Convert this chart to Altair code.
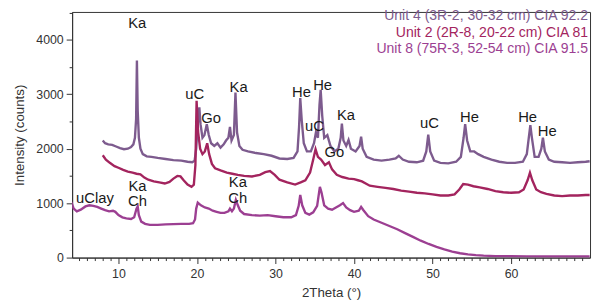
import altair as alt
import pandas as pd

# ---------------- data ----------------
series_names = [
    "Unit 4 (3R-2, 30-32 cm) CIA 92.2",
    "Unit 2 (2R-8, 20-22 cm) CIA 81",
    "Unit 8 (75R-3, 52-54 cm) CIA 91.5",
]
series_colors = ["#7d5b8e", "#a3245e", "#9c3f92"]

u4_theta = [8.0, 8.3, 8.7, 9.2, 9.7, 10.2, 10.7, 11.2, 11.6, 11.9, 12.1, 12.25, 12.35, 12.45, 12.6, 12.8,
            13.1, 13.6, 14.2, 15.0, 16.0, 17.0, 18.0, 18.8, 19.4, 19.7, 19.9, 20.1, 20.3, 20.45, 20.7,
            20.95, 21.25, 21.5, 21.8, 22.2, 22.6, 23.0, 23.4, 23.7, 24.0, 24.2, 24.4, 24.7, 24.9, 25.1,
            25.4, 25.8, 26.5, 27.5, 28.5, 29.5, 30.5, 31.5, 32.3, 32.8, 33.0, 33.15, 33.35, 33.6, 34.0,
            34.5, 34.9, 35.15, 35.4, 35.6, 35.75, 35.95, 36.2, 36.6, 37.0, 37.5, 38.0, 38.3, 38.45,
            38.65, 39.0, 39.3, 39.6, 40.2, 40.7, 40.9, 41.1, 41.6, 42.5, 43.5, 44.5, 45.3, 45.7, 46.2,
            47.0, 48.0, 48.8, 49.2, 49.45, 49.7, 50.2, 51.0, 52.0, 53.0, 53.6, 53.95, 54.15, 54.4, 54.8,
            55.3, 55.8, 56.5, 57.5, 58.5, 59.5, 60.5, 61.5, 62.0, 62.25, 62.45, 62.65, 63.0, 63.5, 63.85,
            64.05, 64.3, 64.8, 65.5, 66.5, 67.5, 68.5, 69.5, 70.0]
u4_counts = [2150, 2100, 2080, 2070, 2040, 2010, 1990, 2000, 2030, 2080, 2200, 2550, 3620, 2700, 2200, 2000,
             1900, 1860, 1850, 1830, 1810, 1790, 1780, 1760, 1750, 1780, 2000, 2450, 2760, 2450, 2200,
             2250, 2450, 2250, 2100, 2050, 2100, 2020, 2080, 2150, 2200, 2400, 2150, 2250, 3030, 2300,
             2050, 1980, 1950, 1920, 1900, 1870, 1820, 1810, 1830, 1950, 2400, 2930, 2500, 2100, 1950,
             1950, 2100, 2300, 2200, 2800, 3080, 2600, 2200, 2250, 2050, 1950, 2000, 2200, 2460,
             2150, 2050, 2160, 2000, 1950, 2050, 2220, 2000, 1850, 1800, 1780, 1800, 1820, 1870, 1800,
             1760, 1750, 1780, 1950, 2260, 1950, 1780, 1740, 1730, 1760, 1850, 2200, 2450, 2150, 1950,
             1950, 1900, 1850, 1800, 1760, 1740, 1740, 1760, 1900, 2200, 2430, 2200, 1850, 1850, 2000,
             2200, 1950, 1800, 1760, 1750, 1740, 1750, 1760, 1770]

u2_theta = [8.0, 8.4, 8.9, 9.5, 10.0, 10.6, 11.2, 11.8, 12.3, 12.8, 13.3, 13.8, 14.5, 15.2, 15.9, 16.5,
            17.0, 17.5, 17.9, 18.3, 18.8, 19.3, 19.6, 19.8, 19.95, 20.15, 20.4, 20.7, 21.0, 21.3, 21.55,
            21.9, 22.3, 23.0, 23.8, 24.5, 25.2, 26.0, 27.0, 28.0, 28.7, 29.3, 29.9, 30.5, 31.5, 32.5,
            33.2, 33.8, 34.4, 34.8, 35.1, 35.4, 35.8, 36.3, 36.8, 37.2, 37.8, 38.5, 39.3, 40.0, 40.5,
            41.0, 42.0, 43.0, 44.0, 45.0, 46.0, 47.0, 48.0, 49.0, 50.0, 51.0, 52.0, 52.8, 53.4, 53.9,
            54.5, 55.2, 56.0, 57.0, 58.0, 59.0, 60.0, 61.0, 61.6, 62.1, 62.4, 62.7, 63.2, 63.8, 64.5,
            65.5, 66.5, 67.5, 68.5, 69.5, 70.0]
u2_counts = [1880, 1800, 1740, 1680, 1650, 1610, 1580, 1560, 1540, 1530, 1470, 1430, 1400, 1380, 1360, 1390,
             1450, 1500, 1490, 1420, 1340, 1300, 1340, 1700, 2880, 2300, 2000, 1900, 1950, 2100, 1900,
             1720, 1640, 1600, 1560, 1540, 1520, 1500, 1490, 1520, 1570, 1590, 1520, 1430, 1380, 1340,
             1380, 1420, 1560, 1800, 1990, 1850, 1800, 1700, 1750, 1620, 1520, 1480, 1450, 1440, 1420,
             1400, 1320, 1300, 1280, 1260, 1230, 1210, 1190, 1180, 1160, 1140, 1140, 1160, 1250, 1350,
             1340, 1310, 1290, 1260, 1220, 1200, 1190, 1200, 1250, 1420, 1560, 1420, 1250, 1200, 1170,
             1140, 1130, 1140, 1140, 1150, 1150]

u8_theta = [4.0, 4.3, 4.7, 5.2, 5.8, 6.3, 6.8, 7.3, 7.8, 8.3, 8.8, 9.3, 9.6, 10.0, 10.5, 11.0, 11.6,
            12.0, 12.3, 12.45, 12.6, 12.9, 13.4, 14.0, 15.0, 16.0, 17.0, 18.0, 19.0, 19.5, 19.75, 19.9,
            20.1, 20.5, 21.0, 21.5, 22.0, 22.5, 23.0, 23.5, 24.0, 24.2, 24.45, 24.7, 24.95, 25.2, 25.5,
            26.0, 27.0, 28.0, 29.0, 30.0, 31.0, 32.0, 32.6, 32.95, 33.15, 33.4, 33.8, 34.3, 34.8, 35.3,
            35.65, 35.85, 36.2, 36.7, 37.2, 37.7, 38.2, 38.6, 39.0, 39.5, 40.0, 40.6, 40.9, 41.2, 41.8,
            42.5, 43.5, 44.5, 45.5, 46.5, 47.5, 48.5, 49.5, 50.5, 51.5, 52.5, 53.5, 54.5, 55.5, 56.5,
            58.0, 60.0, 62.0, 64.0, 66.0, 68.0, 70.0]
u8_counts = [1020, 900, 850, 880, 940, 960, 950, 930, 900, 870, 850, 860, 840, 780, 740, 720, 710,
             740, 900, 940, 780, 660, 620, 600, 600, 610, 615, 620, 620, 630, 700, 900,
             1010, 960, 920, 900, 860, 840, 820, 820, 850, 900, 850, 900, 1060, 960, 860,
             800, 780, 770, 780, 760, 740, 740, 780, 950, 1150, 960, 820, 790, 830, 950,
             1300, 1200, 960, 900, 880, 920, 960, 1000, 920, 870, 840, 860, 930, 870, 760,
             700, 640, 580, 520, 450, 380, 310, 250, 195, 150, 110, 80, 60, 45, 35,
             28, 24, 22, 20, 20, 20, 20]

ann_text = ["Ka", "uC", "Go", "Ka", "He", "He", "uC", "Go", "Ka", "uC", "He", "He", "He",
            "uClay", "Ka", "Ch", "Ka", "Ch"]
ann_theta = [12.4, 19.7, 21.8, 25.3, 33.3, 36.0, 34.96, 37.5, 38.98, 49.6, 54.7, 62.1, 64.6,
             7.0, 12.43, 12.43, 25.2, 25.2]
ann_counts = [4300, 3010, 2555, 3140, 3040, 3175, 2415, 1930, 2615, 2465, 2580, 2580, 2330,
              1085, 1320, 1040, 1380, 1100]

x_tick_values = list(range(5, 70))
y_tick_values = list(range(0, 4501, 500))
x_domain = [4.1, 70.05]
y_domain = [0, 4511]

# ---------------- build tables ----------------
rows = []
for name, th, ct in zip(series_names, [u4_theta, u2_theta, u8_theta], [u4_counts, u2_counts, u8_counts]):
    for a, b in zip(th, ct):
        rows.append({"theta": a, "counts": b, "series": name})
df = pd.DataFrame(rows)
df_ann = pd.DataFrame({"text": ann_text, "theta": ann_theta, "counts": ann_counts})

FONT = "Liberation Sans"
color_scale = alt.Scale(domain=series_names, range=series_colors)
x_scale = alt.Scale(domain=x_domain, nice=False, zero=False)
y_scale = alt.Scale(domain=y_domain, nice=False)

major_x = "abs(datum.value / 10 - round(datum.value / 10)) < 0.001"
major_y = "abs(datum.value / 1000 - round(datum.value / 1000)) < 0.001"

x_axis = alt.Axis(title="2Theta (°)", values=x_tick_values,
                  labelExpr=f"{major_x} ? format(datum.value, 'd') : ''",
                  tickSize={"condition": {"test": major_x, "value": 6}, "value": 3},
                  labelOverlap=False, labelFlush=False, labelPadding=4, titlePadding=6)
y_axis = alt.Axis(title="Intensity (counts)", values=y_tick_values,
                  labelExpr=f"{major_y} ? format(datum.value, 'd') : ''",
                  tickSize={"condition": {"test": major_y, "value": 6}, "value": 3},
                  labelOverlap=False, labelPadding=3, titlePadding=9)

lines = alt.Chart(df).mark_line(strokeWidth=2.4, clip=True, interpolate="linear").encode(
    x=alt.X("theta:Q", scale=x_scale, axis=x_axis),
    y=alt.Y("counts:Q", scale=y_scale, axis=y_axis),
    color=alt.Color("series:N", scale=color_scale, legend=None),
    detail="series:N",
)

ann = alt.Chart(df_ann).mark_text(font=FONT, fontSize=15, color="#1a1a1a",
                                  baseline="middle", align="center").encode(
    x=alt.X("theta:Q", scale=x_scale, axis=x_axis),
    y=alt.Y("counts:Q", scale=y_scale, axis=y_axis),
    text="text:N")

legend_layers = []
for i, name in enumerate(series_names):
    legend_layers.append(
        alt.Chart(pd.DataFrame({"series": [name]})).mark_text(
            font=FONT, fontSize=14.2, align="right", baseline="middle").encode(
            x=alt.value(523), y=alt.value(4.5 + 16.5 * i), text="series:N",
            color=alt.Color("series:N", scale=color_scale, legend=None))
    )

chart = alt.layer(lines, ann, *legend_layers).properties(
    width=525, height=249,
    autosize=alt.AutoSizeParams(type="none"),
    padding={"left": 65, "top": 2, "right": 2, "bottom": 42},
).configure_view(stroke="#333333", strokeWidth=1).configure_axis(
    grid=False, labelFont=FONT, titleFont=FONT, labelFontSize=12.5, titleFontSize=13.5,
    titleFontWeight="normal", labelColor="#333333", titleColor="#333333",
    domainColor="#333333", tickColor="#333333",
)

chart.save("out.html", embed_options={"renderer": "svg", "actions": False})
